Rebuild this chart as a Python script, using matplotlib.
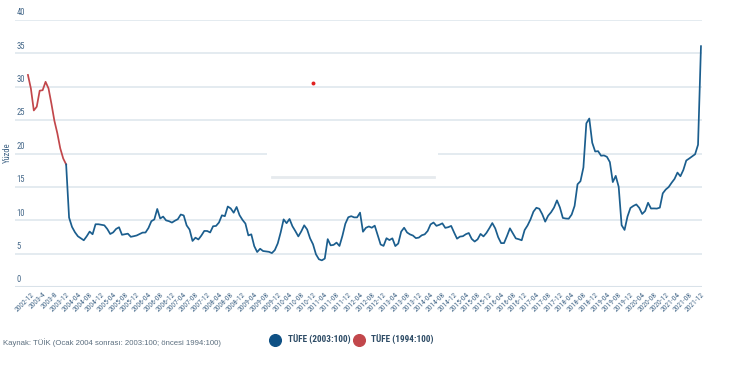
import numpy as np
import pandas as pd
import matplotlib
matplotlib.use("Agg")
import matplotlib.pyplot as plt
from matplotlib.lines import Line2D
from matplotlib.patches import Rectangle

plt.rcParams["font.family"] = ["Roboto Condensed", "Liberation Sans", "DejaVu Sans"]

# months from 2002-11 to 2021-12
months = pd.period_range("2002-11", "2021-12", freq="M")

# TUFE (1994=100), 2002-11 .. 2003-12
old_values = [31.77, 29.75, 26.45, 27.01, 29.41, 29.48, 30.74, 29.76,
              27.44, 24.91, 23.04, 20.77, 19.26, 18.36]

# TUFE (2003=100), 2003-12 .. 2021-12
new_values = [
    18.36,
    10.4, 9.0, 8.2, 7.6, 7.3, 7.0, 7.6, 8.3, 7.9, 9.4, 9.4, 9.32,
    9.24, 8.69, 7.94, 8.18, 8.70, 8.95, 7.82, 7.91, 7.99, 7.52, 7.61, 7.72,
    7.93, 8.15, 8.16, 8.83, 9.86, 10.12, 11.69, 10.26, 10.55, 9.98, 9.86, 9.65,
    9.93, 10.16, 10.86, 10.72, 9.23, 8.60, 6.90, 7.39, 7.12, 7.70, 8.40, 8.39,
    8.17, 9.10, 9.15, 9.66, 10.74, 10.61, 12.06, 11.77, 11.13, 11.99, 10.76, 10.06,
    9.50, 7.73, 7.89, 6.13, 5.24, 5.73, 5.39, 5.33, 5.27, 5.08, 5.53, 6.53,
    8.19, 10.13, 9.56, 10.19, 9.10, 8.37, 7.58, 8.33, 9.24, 8.62, 7.29, 6.40,
    4.90, 4.16, 3.99, 4.26, 7.17, 6.24, 6.31, 6.65, 6.15, 7.66, 9.48, 10.45,
    10.61, 10.43, 10.43, 11.14, 8.28, 8.87, 9.07, 8.88, 9.19, 7.80, 6.37, 6.16,
    7.31, 7.03, 7.29, 6.13, 6.51, 8.30, 8.88, 8.17, 7.88, 7.71, 7.32, 7.40,
    7.75, 7.89, 8.39, 9.38, 9.66, 9.16, 9.32, 9.54, 8.86, 8.96, 9.15, 8.17,
    7.24, 7.55, 7.61, 7.91, 8.09, 7.20, 6.81, 7.14, 7.95, 7.58, 8.10, 8.81,
    9.58, 8.78, 7.46, 6.57, 6.58, 7.64, 8.79, 8.05, 7.28, 7.16, 7.00, 8.53,
    9.22, 10.13, 11.29, 11.87, 11.72, 10.90, 9.79, 10.68, 11.20, 11.90, 12.98, 11.92,
    10.35, 10.26, 10.23, 10.85, 12.15, 15.39, 15.85, 17.90, 24.52, 25.24, 21.62, 20.30,
    20.35, 19.67, 19.71, 19.50, 18.71, 15.72, 16.65, 15.01, 9.26, 8.55, 10.56, 11.84,
    12.15, 12.37, 11.86, 10.94, 11.39, 12.62, 11.76, 11.77, 11.75, 11.89, 14.03, 14.60,
    14.97, 15.61, 16.19, 17.14, 16.59, 17.53, 18.95, 19.25, 19.58, 19.89, 21.31, 36.08,
]

tick_labels = ["2002-12", "2003-4", "2003-8"] + [
    p.strftime("%Y-%m") for p in pd.period_range("2003-12", "2021-12", freq="4M")
]
y_ticks = [0, 5, 10, 15, 20, 25, 30, 35, 40]

# stray tooltip marker seen in the screenshot
marker_month = "2010-12"
marker_value = 30.6

blue = "#1b5e8e"
red = "#c2474b"
text_col = "#46698a"
grid_col = "#e2e9ef"

x_all = np.arange(len(months))
x_old = x_all[:len(old_values)]
x_new = x_all[len(old_values) - 1:]

fig = plt.figure(figsize=(7.31, 3.72), dpi=100)
ax = fig.add_axes([15 / 731, 1 - 287 / 372, 687 / 731, 267 / 372])

for v in y_ticks[1:]:
    ax.axhline(v, color=grid_col, lw=1.3, zorder=0)
ax.axhline(0, color="#d9e2e9", lw=1.5, zorder=0)

# white tooltip box hiding part of the grid
month_idx = {str(p): i for i, p in enumerate(months)}
ax.add_patch(Rectangle((81.3, 16.3), 58.2, 6.5, facecolor="white",
                       edgecolor="none", zorder=1))
ax.plot([83, 138], [16.5, 16.5], color="#e6eaee", lw=2, zorder=1)

ax.plot(x_old, old_values, color=red, lw=1.25, zorder=3)
ax.plot(x_new, new_values, color=blue, lw=1.25, zorder=3)
ax.scatter([month_idx[marker_month]], [marker_value], s=8, color="#e02020",
           zorder=4, linewidths=0)

ax.set_xlim(-4.4, len(months) - 1 + 0.35)
ax.set_ylim(0, 40)

for s in ax.spines.values():
    s.set_visible(False)
ax.set_yticks([])

tick_pos = [month_idx[str(p)] for p in pd.period_range("2002-12", "2021-12", freq="4M")]
ax.set_xticks(tick_pos)
ax.set_xticklabels(tick_labels, rotation=45, ha="right", va="top",
                   rotation_mode="anchor", fontsize=5.5, color=text_col)
ax.tick_params(axis="x", length=0, pad=3)

for v in y_ticks:
    ax.text(0.002, v + 0.4, str(v), transform=ax.get_yaxis_transform(),
            fontsize=6.2, color=text_col, ha="left", va="bottom")

fig.text(7 / 731, 1 - 153 / 372, "Yüzde", rotation=90, fontsize=6.2,
         color=text_col, ha="center", va="center")

fig.text(3 / 731, 1 - 343 / 372,
         "Kaynak: TÜİK (Ocak 2004 sonrası: 2003:100; öncesi 1994:100)",
         fontsize=5.6, color="#5b6e7f", ha="left", va="center",
         family=["Liberation Sans", "DejaVu Sans"])

handles = [
    Line2D([], [], marker="o", ls="none", ms=8.4, color="#0f5185"),
    Line2D([], [], marker="o", ls="none", ms=8.4, color=red),
]
leg = fig.legend(handles, ["TÜFE (2003:100)", "TÜFE (1994:100)"],
                 loc="center left", bbox_to_anchor=(269.5 / 731, 1 - 340 / 372),
                 ncol=2, frameon=False, handletextpad=0.75, columnspacing=0.3,
                 handlelength=1.2, borderpad=0, borderaxespad=0,
                 prop={"size": 6.7, "weight": "bold"})
for t in leg.get_texts():
    t.set_color("#2e4c66")

fig.savefig("out.png", dpi=100, facecolor="white")
